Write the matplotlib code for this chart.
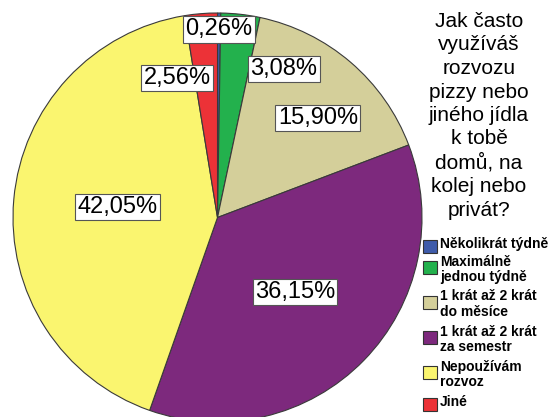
import matplotlib.pyplot as plt
from matplotlib.patches import Rectangle

# --- data ---
categories = ["Několikrát týdně", "Maximálně\njednou týdně", "1 krát až 2 krát\ndo měsíce",
              "1 krát až 2 krát\nza semestr", "Nepoužívám\nrozvoz", "Jiné"]
counts = [1, 12, 62, 141, 164, 10]
colors = ["#3E5BAA", "#23B14D", "#D4CF9A", "#7D297D", "#FAF56F", "#EC3237"]
title = "Jak často\nvyužíváš\nrozvozu\npizzy nebo\njiného jídla\nk tobě\ndomů, na\nkolej nebo\nprivát?"

# label positions (x, y in units of pie radius), placed by hand like SPSS does
label_pos = [(0.007, 0.921), (0.325, 0.726), (0.491, 0.487),
             (0.379, -0.364), (-0.491, 0.051), (-0.198, 0.682)]

plt.rcParams['font.family'] = ['Liberation Sans', 'DejaVu Sans']

W, H = 554, 417
cx, cy, R = 217.5, 217.5, 204.5

fig = plt.figure(figsize=(W / 100, H / 100), dpi=100)
ax = fig.add_axes([0, 0, 1, 1])
ax.pie(counts, colors=colors, startangle=90, counterclock=False, radius=1,
       wedgeprops=dict(edgecolor="#3a3a3a", linewidth=0.8))
ax.set_xlim(-cx / R, (W - cx) / R)
ax.set_ylim(-(H - cy) / R, cy / R)
ax.set_aspect('auto')
ax.axis('off')

total = sum(counts)
for c, (lx, ly) in zip(counts, label_pos):
    pct = f"{100 * c / total:.2f}%".replace(".", ",")
    ax.text(lx, ly, pct, ha='center', va='center', fontsize=17,
            bbox=dict(boxstyle='square,pad=0.1', facecolor='white',
                      edgecolor='#555555', linewidth=0.8))

# legend title
fig.text(479 / W, 1 - 12 / H, title, ha='center', va='top', fontsize=15,
         linespacing=1.3)

# legend entries
y = 240.0
for lab, col in zip(categories, colors):
    nl = lab.count("\n") + 1
    fig.text(440 / W, 1 - (y - 3) / H, lab, ha='left', va='top', fontsize=10,
             fontweight='bold', linespacing=1.15)
    btop = y + (3 if nl > 1 else 0)
    fig.patches.append(Rectangle((423 / W, 1 - (btop + 13) / H), 14 / W, 13 / H,
                                 transform=fig.transFigure, facecolor=col,
                                 edgecolor='#333333', linewidth=0.8))
    y += 17.5 * nl

fig.savefig("out.png", dpi=100)
